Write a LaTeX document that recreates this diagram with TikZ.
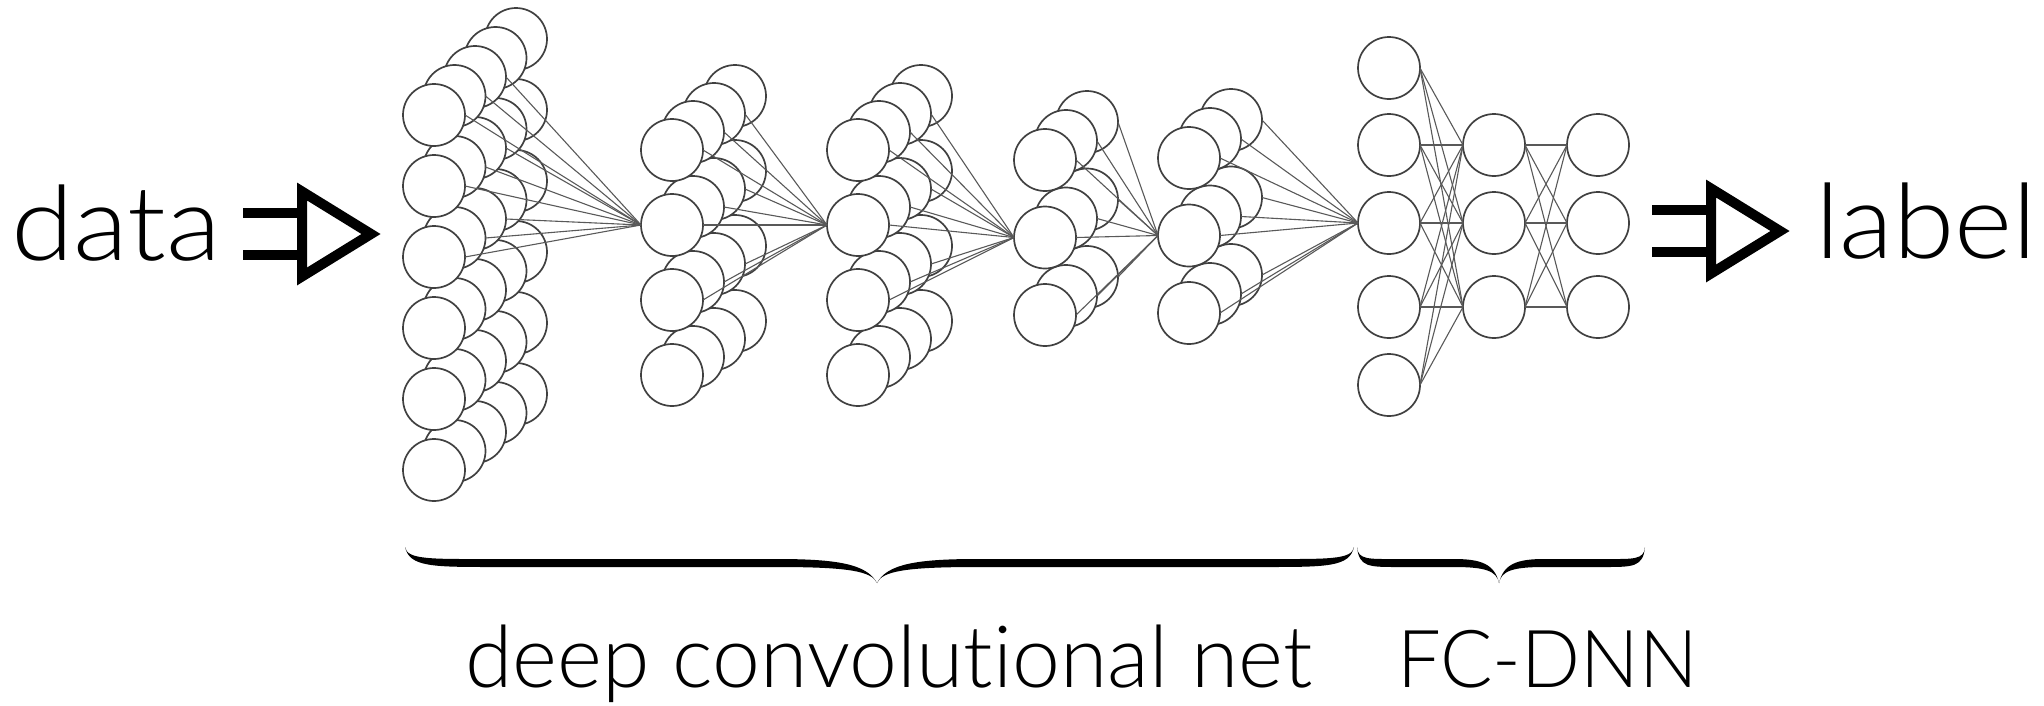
\documentclass[tikz,border=0pt]{standalone}
\usepackage{fontspec}
% light humanist sans for all labels
\setmainfont{Lato Light}[Ligatures=NoCommon]
\newfontfamily\datafont{Lato Light}[Ligatures=NoCommon,FakeStretch=1.09]
\newfontfamily\labelfont{Lato Light}[Ligatures=NoCommon,FakeStretch=1.07]
\newfontfamily\capsfont{Lato Light}[Ligatures=NoCommon,FakeStretch=0.97]

% filled calligraphic brace: left end, tip, right end, end-curl length, tip-curl length
\newcommand\calbrace[5]{%
  \fill[black] (#1,547) .. controls ({#1+0.05*#4},567) and ({#1+0.3*#4},567) .. ({#1+#4},567)
    -- ({#2-#5},567) .. controls ({#2-0.3*#5},567) and ({#2-0.05*#5},571) .. (#2,583)
    .. controls ({#2-0.1*#5},564) and ({#2-0.4*#5},559) .. ({#2-#5},559)
    -- ({#1+#4},559) .. controls ({#1+0.3*#4},559) and ({#1+0.02*#4},560) .. (#1,547) -- cycle;
  \fill[black] (#3,547) .. controls ({#3-0.05*#4},567) and ({#3-0.3*#4},567) .. ({#3-#4},567)
    -- ({#2+#5},567) .. controls ({#2+0.3*#5},567) and ({#2+0.05*#5},571) .. (#2,583)
    .. controls ({#2+0.1*#5},564) and ({#2+0.4*#5},559) .. ({#2+#5},559)
    -- ({#3-#4},559) .. controls ({#3-0.3*#4},559) and ({#3-0.02*#4},560) .. (#3,547) -- cycle;
}

% hollow double-shafted arrow: left end of the shafts, centre line
\newcommand\hollowarrow[2]{%
  \draw[line width=10pt] (#1,{#2-21}) -- ({#1+59},{#2-21}) (#1,{#2+21}) -- ({#1+59},{#2+21});
  \draw[line width=10pt,line join=miter] ({#1+59},{#2-42.5}) -- ({#1+128},#2) -- ({#1+59},{#2+42.5}) -- cycle;
}

\begin{document}
\begin{tikzpicture}[x=1pt,y=-1pt,
  neuron/.style={circle,draw=black!75,line width=1.7pt,fill=white,
    minimum size=62pt,inner sep=0pt,outer sep=0pt},
  link/.style={draw=black!65,line width=1.1pt},
  txt/.style={anchor=base west,inner sep=0pt,outer sep=0pt}]
\useasboundingbox (0,0) rectangle (2044,705);

% convolutional stacks: id / front x / first row y / row step / rows / layers / layer shift
\foreach \nm/\xo/\yo/\ys/\nr/\nl/\dx/\dy in {
    1/434/115/71/6/5/20.5/-19,
    2/672/150/75/4/4/21/-18,
    3/858/150/75/4/4/21/-18,
    4/1045/160/77.5/3/3/21/-19,
    5/1189/158/77.5/3/3/21/-19} {
  \foreach \l in {\nl,...,1} {
    \foreach \r in {1,...,\nr} {
      \node[neuron] (s\nm-\l-\r) at ({\xo+(\l-1)*\dx},{\yo+(\r-1)*\ys+(\l-1)*\dy}) {};
    }
  }
}

% fully connected layers
\foreach \r/\y in {1/68,2/145,3/223,4/307,5/385}
  \node[neuron] (fa\r) at (1389,\y) {};
\foreach \r/\y in {1/145,2/223,3/307} {
  \node[neuron] (fb\r) at (1494,\y) {};
  \node[neuron] (fc\r) at (1598,\y) {};
}

% receptive fields: 3 rows x 3 front layers feed one unit
\foreach \src/\dst in {s1/s2-1-2, s2/s3-1-2, s3/s4-1-2, s4/s5-1-2, s5/fa3}
  \foreach \l in {1,2,3}
    \foreach \r in {1,2,3}
      \draw[link] (\src-\l-\r.east) -- (\dst.west);

% dense connections
\foreach \a in {1,...,5}
  \foreach \b in {1,2,3}
    \draw[link] (fa\a.east) -- (fb\b.west);
\foreach \a in {1,2,3}
  \foreach \b in {1,2,3}
    \draw[link] (fb\a.east) -- (fc\b.west);

% input / output
\node[txt,font=\datafont\fontsize{104}{110}\selectfont] (data) at (11,260) {data};
\node[txt,font=\labelfont\fontsize{104}{110}\selectfont] (label) at (1815,258) {label};
\hollowarrow{243}{234}
\hollowarrow{1652}{231}

% braces and captions
\calbrace{405}{877}{1354}{90}{100}
\calbrace{1357}{1499}{1645}{40}{45}
\node[txt,font=\fontsize{86}{90}\selectfont] (convtxt) at (465,687) {deep convolutional net};
\node[txt,font=\capsfont\fontsize{80}{90}\selectfont] (fctxt) at (1397,687) {FC-DNN};
\end{tikzpicture}
\end{document}
